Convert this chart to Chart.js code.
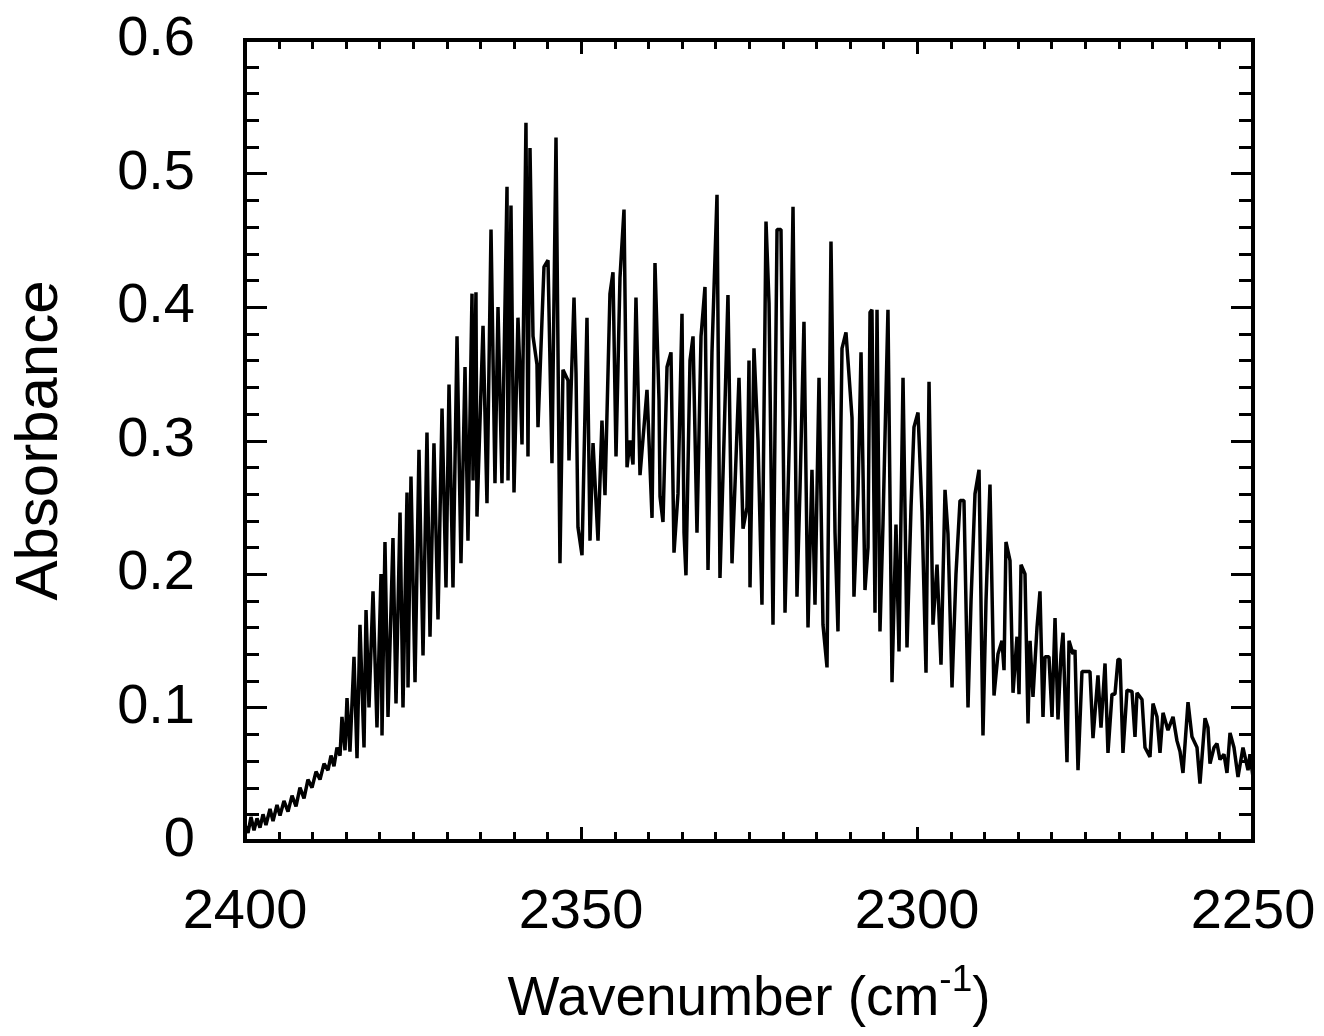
<html>
<head>
<title>Absorbance spectrum</title>
<script src="https://cdn.jsdelivr.net/npm/chart.js@4.4.1/dist/chart.umd.min.js"></script>
<style>
  body { margin: 0; background: #fff; }
</style>
</head>
<body>
<canvas id="spectrum" width="1324" height="1036"></canvas>
<script>
var wavenumber = [
  2400.0, 2399.55, 2399.11, 2398.66, 2398.21, 2397.77, 2397.32, 2396.88, 2396.28, 2395.83,
  2395.24, 2394.79, 2394.2, 2393.6, 2393.0, 2392.41, 2391.82, 2391.22, 2390.63, 2390.03,
  2389.43, 2388.84, 2388.24, 2387.65, 2387.2, 2386.76, 2386.31, 2385.86, 2385.57, 2385.12,
  2384.82, 2384.38, 2383.78, 2383.33, 2382.89, 2382.29, 2381.99, 2381.55, 2380.95, 2380.36,
  2379.76, 2379.61, 2379.17, 2378.72, 2377.98, 2377.53, 2376.93, 2376.49, 2375.89, 2375.74,
  2375.3, 2374.7, 2374.11, 2373.51, 2372.92, 2372.47, 2371.88, 2371.28, 2370.68, 2370.09,
  2369.64, 2369.05, 2368.45, 2367.86, 2367.26, 2366.82, 2366.22, 2366.07, 2365.63, 2365.48,
  2364.58, 2363.99, 2363.39, 2362.8, 2362.35, 2361.76, 2361.01, 2360.86, 2360.42, 2359.97,
  2359.38, 2359.08, 2358.78, 2358.19, 2357.89, 2357.59, 2357.14, 2356.55, 2356.4, 2355.51,
  2354.91, 2354.32, 2353.72, 2353.13, 2352.68, 2351.93, 2351.79, 2351.49, 2351.04, 2350.74,
  2350.45, 2349.85, 2349.11, 2348.66, 2348.21, 2347.47, 2346.88, 2346.43, 2345.69, 2345.24,
  2344.79, 2344.2, 2343.6, 2343.15, 2342.71, 2342.26, 2341.82, 2341.22, 2340.63, 2340.18,
  2339.43, 2338.99, 2338.39, 2338.24, 2337.8, 2337.2, 2336.61, 2336.16, 2335.57, 2334.97,
  2334.67, 2334.38, 2333.78, 2333.33, 2332.74, 2332.14, 2331.55, 2331.1, 2330.51, 2329.76,
  2329.32, 2328.72, 2328.13, 2327.53, 2327.08, 2326.49, 2325.89, 2325.3, 2325.0, 2324.85,
  2324.26, 2323.66, 2323.07, 2322.47, 2322.02, 2321.43, 2320.83, 2320.24, 2319.64, 2319.2,
  2318.9, 2318.45, 2317.86, 2317.41, 2316.82, 2316.22, 2315.63, 2315.18, 2314.58, 2313.99,
  2313.39, 2312.8, 2312.2, 2311.76, 2311.16, 2310.57, 2309.67, 2309.38, 2308.78, 2308.33,
  2307.74, 2307.29, 2306.99, 2306.7, 2306.25, 2305.95, 2305.51, 2305.06, 2304.32, 2303.72,
  2303.13, 2302.68, 2302.08, 2301.79, 2301.49, 2300.89, 2300.45, 2299.85, 2299.26, 2298.66,
  2298.21, 2297.62, 2297.02, 2296.43, 2295.83, 2295.39, 2294.79, 2294.2, 2293.6, 2293.01,
  2292.41, 2291.96, 2291.37, 2290.77, 2290.18, 2289.73, 2289.14, 2288.54, 2287.95, 2287.35,
  2287.05, 2286.76, 2286.16, 2285.71, 2285.12, 2284.82, 2284.52, 2283.93, 2283.48, 2283.18,
  2282.74, 2282.14, 2281.7, 2281.25, 2280.95, 2280.36, 2279.91, 2279.46, 2279.02, 2278.57,
  2278.27, 2277.68, 2277.38, 2276.79, 2276.49, 2276.04, 2275.45, 2274.26, 2273.81, 2273.07,
  2272.62, 2272.02, 2271.58, 2270.98, 2270.54, 2270.09, 2269.79, 2269.35, 2268.75, 2268.01,
  2267.56, 2267.26, 2266.52, 2266.07, 2265.33, 2264.88, 2264.29, 2263.84, 2263.39, 2262.65,
  2261.9, 2261.31, 2260.86, 2260.42, 2259.67, 2259.08, 2258.33, 2257.89, 2257.14, 2256.7,
  2256.4, 2255.8, 2255.36, 2254.91, 2254.32, 2253.87, 2253.42, 2252.83, 2252.23, 2251.49,
  2250.74, 2250.45, 2250.0
];

var absorbance = [
  0.012, 0.006, 0.018, 0.008, 0.017, 0.010, 0.020, 0.012, 0.024, 0.015,
  0.027, 0.019, 0.030, 0.022, 0.034, 0.026, 0.040, 0.032, 0.046, 0.040,
  0.052, 0.046, 0.058, 0.053, 0.064, 0.056, 0.070, 0.064, 0.093, 0.068,
  0.107, 0.067, 0.138, 0.062, 0.162, 0.070, 0.173, 0.100, 0.187, 0.085,
  0.200, 0.079, 0.224, 0.093, 0.227, 0.103, 0.246, 0.100, 0.261, 0.115,
  0.273, 0.119, 0.293, 0.139, 0.306, 0.153, 0.298, 0.166, 0.324, 0.190,
  0.342, 0.190, 0.378, 0.208, 0.355, 0.225, 0.410, 0.270, 0.411, 0.243,
  0.386, 0.253, 0.458, 0.268, 0.400, 0.268, 0.490, 0.270, 0.476, 0.261,
  0.392, 0.350, 0.297, 0.538, 0.288, 0.519, 0.378, 0.357, 0.310, 0.430,
  0.435, 0.283, 0.527, 0.208, 0.353, 0.345, 0.285, 0.336, 0.407, 0.350,
  0.235, 0.214, 0.392, 0.225, 0.298, 0.225, 0.315, 0.259, 0.410, 0.426,
  0.288, 0.422, 0.473, 0.280, 0.300, 0.282, 0.407, 0.274, 0.310, 0.338,
  0.242, 0.433, 0.330, 0.258, 0.239, 0.355, 0.366, 0.216, 0.260, 0.395,
  0.231, 0.199, 0.360, 0.378, 0.231, 0.378, 0.415, 0.203, 0.366, 0.484,
  0.197, 0.300, 0.409, 0.208, 0.267, 0.347, 0.234, 0.250, 0.360, 0.190,
  0.369, 0.300, 0.177, 0.464, 0.403, 0.162, 0.458, 0.458, 0.171, 0.260,
  0.320, 0.475, 0.183, 0.264, 0.389, 0.160, 0.278, 0.177, 0.347, 0.162,
  0.130, 0.449, 0.231, 0.157, 0.369, 0.381, 0.317, 0.183, 0.260, 0.366,
  0.188, 0.220, 0.396, 0.398, 0.171, 0.398, 0.157, 0.238, 0.398, 0.119,
  0.237, 0.142, 0.347, 0.250, 0.145, 0.250, 0.310, 0.321, 0.247, 0.126,
  0.344, 0.162, 0.207, 0.132, 0.263, 0.230, 0.115, 0.200, 0.255, 0.255,
  0.100, 0.180, 0.260, 0.278, 0.079, 0.180, 0.267, 0.109, 0.140, 0.150,
  0.128, 0.224, 0.210, 0.111, 0.153, 0.110, 0.207, 0.200, 0.088, 0.150,
  0.108, 0.160, 0.187, 0.093, 0.138, 0.138, 0.093, 0.167, 0.091, 0.140,
  0.156, 0.059, 0.150, 0.140, 0.143, 0.053, 0.127, 0.127, 0.077, 0.124,
  0.085, 0.133, 0.066, 0.110, 0.110, 0.136, 0.136, 0.066, 0.113, 0.112,
  0.078, 0.111, 0.106, 0.070, 0.063, 0.103, 0.093, 0.066, 0.096, 0.083,
  0.093, 0.075, 0.067, 0.051, 0.104, 0.078, 0.070, 0.043, 0.092, 0.085,
  0.058, 0.070, 0.073, 0.061, 0.065, 0.051, 0.081, 0.070, 0.048, 0.070,
  0.053, 0.065, 0.048
];

var xTickValues = [2400, 2350, 2300, 2250];
var xTickLabels = ['2400', '2350', '2300', '2250'];
var yTickValues = [0, 0.1, 0.2, 0.3, 0.4, 0.5, 0.6];
var yTickLabels = ['0', '0.1', '0.2', '0.3', '0.4', '0.5', '0.6'];

var FONT = '"Liberation Sans", Arial, Helvetica, sans-serif';

var points = wavenumber.map(function (w, i) { return { x: w, y: absorbance[i] }; });

// keep the plot box where the original sits, labels are allowed to overhang
function noOverhang(s) {
  s.paddingLeft = 0; s.paddingRight = 0; s.paddingTop = 0; s.paddingBottom = 0;
}

// box, inward ticks on all four sides, and the x title with its superscript
var frame = {
  id: 'frame',
  afterDraw: function (chart) {
    var ctx = chart.ctx, a = chart.chartArea;
    var xs = chart.scales.x, ys = chart.scales.y;
    ctx.save();
    ctx.strokeStyle = '#000';
    ctx.lineWidth = 3;
    ctx.lineCap = 'butt';
    ctx.beginPath();
    for (var w = 2250; w <= 2400; w += 5) {
      var px = Math.round(xs.getPixelForValue(w)) + 0.5;
      var len = (w % 50 === 0) ? 14 : 9;
      ctx.moveTo(px, a.bottom); ctx.lineTo(px, a.bottom - len);
      ctx.moveTo(px, a.top); ctx.lineTo(px, a.top + len);
    }
    for (var i = 0; i <= 30; i++) {
      var py = Math.round(ys.getPixelForValue(i * 0.02)) + 0.5;
      var l2 = (i % 5 === 0) ? 22 : 14;
      ctx.moveTo(a.left, py); ctx.lineTo(a.left + l2, py);
      ctx.moveTo(a.right, py); ctx.lineTo(a.right - l2, py);
    }
    ctx.stroke();
    ctx.lineWidth = 4;
    ctx.strokeRect(a.left, a.top, a.right - a.left, a.bottom - a.top);

    // "Wavenumber (cm-1)"
    var main = 'Wavenumber (cm', sup = '-1', close = ')';
    ctx.fillStyle = '#000';
    ctx.textBaseline = 'alphabetic';
    ctx.textAlign = 'left';
    ctx.font = '55px ' + FONT;
    var wMain = ctx.measureText(main).width;
    var wClose = ctx.measureText(close).width;
    ctx.font = '37px ' + FONT;
    var wSup = ctx.measureText(sup).width;
    var x0 = (a.left + a.right) / 2 - (wMain + wSup + wClose) / 2;
    var base = 1015;
    ctx.font = '55px ' + FONT;
    ctx.fillText(main, x0, base);
    ctx.font = '37px ' + FONT;
    ctx.fillText(sup, x0 + wMain, base - 24);
    ctx.font = '55px ' + FONT;
    ctx.fillText(close, x0 + wMain + wSup, base);
    ctx.restore();
  }
};

new Chart(document.getElementById('spectrum'), {
  type: 'line',
  data: {
    datasets: [{
      data: points,
      borderColor: '#000',
      borderWidth: 3.5,
      borderJoinStyle: 'bevel',
      pointRadius: 0,
      fill: false,
      tension: 0
    }]
  },
  options: {
    responsive: false,
    devicePixelRatio: 1,
    animation: false,
    layout: { padding: { left: 0, top: 40, right: 71, bottom: 0 } },
    plugins: { legend: { display: false }, tooltip: { enabled: false } },
    scales: {
      x: {
        type: 'linear',
        min: 2250,
        max: 2400,
        reverse: true,
        grid: { display: false, drawTicks: false },
        border: { display: false },
        afterBuildTicks: function (s) { s.ticks = xTickValues.map(function (v) { return { value: v }; }); },
        afterFit: function (s) { s.height = 195; noOverhang(s); },
        ticks: {
          padding: 38,
          color: '#000',
          maxRotation: 0,
          font: { family: FONT, size: 56 },
          callback: function (v) { return xTickLabels[xTickValues.indexOf(v)]; }
        }
      },
      y: {
        min: 0,
        max: 0.6,
        grid: { display: false, drawTicks: false },
        border: { display: false },
        afterBuildTicks: function (s) { s.ticks = yTickValues.map(function (v) { return { value: v }; }); },
        afterFit: function (s) { s.width = 245; noOverhang(s); },
        ticks: {
          padding: 50,
          color: '#000',
          font: { family: FONT, size: 56 },
          callback: function (v) { return yTickLabels[yTickValues.indexOf(Math.round(v * 10) / 10)]; }
        },
        title: {
          display: true,
          text: 'Absorbance',
          color: '#000',
          padding: { top: 4, bottom: 0 },
          font: { family: FONT, size: 60 }
        }
      }
    }
  },
  plugins: [frame]
});
</script>
</body>
</html>
